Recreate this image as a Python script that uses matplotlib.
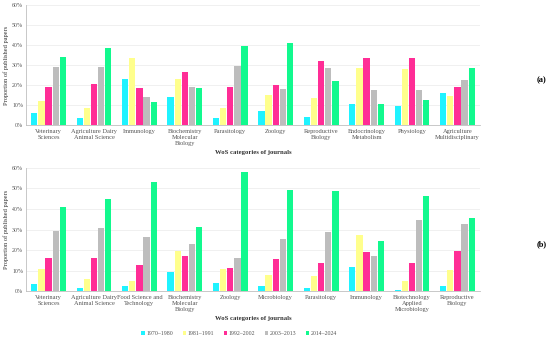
import numpy as np
import matplotlib.pyplot as plt

periods = ["1970–1980", "1981–1991", "1992–2002", "2003–2013", "2014–2024"]
colors = ["#1ff3ff", "#ffff8c", "#ff2d96", "#bdbdbd", "#12f98e"]

cats_a = ["Veterinary\nSciences", "Agriculture Dairy\nAnimal Science", "Immunology",
          "Biochemistry\nMolecular\nBiology", "Parasitology", "Zoology",
          "Reproductive\nBiology", "Endocrinology\nMetabolism", "Physiology",
          "Agriculture\nMultidisciplinary"]
vals_a = [
    [6.0, 3.7, 22.8, 14.0, 3.5, 6.8, 4.2, 10.3, 9.5, 15.8],
    [12.0, 8.5, 33.3, 22.8, 8.7, 14.8, 13.5, 28.5, 27.8, 14.5],
    [19.0, 20.7, 18.5, 26.3, 18.8, 19.8, 32.2, 33.5, 33.7, 19.0],
    [28.8, 29.0, 14.0, 18.8, 29.5, 17.8, 28.5, 17.5, 17.3, 22.7],
    [34.2, 38.7, 11.7, 18.3, 39.7, 41.0, 22.2, 10.7, 12.5, 28.3],
]

cats_b = ["Veterinary\nSciences", "Agriculture Dairy\nAnimal Science", "Food Science and\nTechnology",
          "Biochemistry\nMolecular\nBiology", "Zoology", "Microbiology", "Parasitology",
          "Immunology", "Biotechnology\nApplied\nMicrobiology", "Reproductive\nBiology"]
vals_b = [
    [3.3, 1.6, 2.3, 9.5, 3.9, 2.3, 1.6, 11.6, 0.7, 2.3],
    [10.5, 6.0, 4.9, 19.3, 10.6, 8.0, 7.5, 27.5, 4.9, 10.1],
    [16.3, 16.3, 12.9, 17.0, 11.1, 15.4, 13.6, 19.1, 13.6, 19.6],
    [29.1, 30.9, 26.5, 22.7, 16.3, 25.3, 28.6, 17.3, 34.5, 32.5],
    [40.9, 45.0, 53.1, 31.4, 58.0, 49.2, 48.6, 24.4, 46.3, 35.6],
]

plt.rcParams['font.family'] = ['Liberation Serif', 'DejaVu Serif']
txt = "#555555"

fig = plt.figure(figsize=(5.5, 3.38), dpi=100)
ax_a = fig.add_axes([0.047, 0.630, 0.826, 0.355])
ax_b = fig.add_axes([0.047, 0.139, 0.826, 0.364])


def draw(ax, cats, vals, tag, ypos):
    x = np.arange(len(cats))
    w = 0.14
    step = 0.157
    for i, (lab, c) in enumerate(zip(periods, colors)):
        ax.bar(x + (i - 2) * step, vals[i], w, color=c, label=lab, zorder=3)
    ax.set_xlim(-0.5, len(cats) - 0.5)
    ax.set_ylim(0, 60)
    ax.set_yticks(range(0, 61, 10))
    ax.set_yticklabels([f"{t}%" for t in range(0, 61, 10)])
    ax.yaxis.grid(True, color="#eeeeee", linewidth=0.6, zorder=0)
    ax.set_xticks(x)
    ax.set_xticklabels(cats, fontsize=4.6, color=txt, linespacing=1.25)
    ax.tick_params(axis="y", labelsize=4.2, labelcolor=txt, length=0, pad=2)
    ax.tick_params(axis="x", length=0, pad=3)
    for s in ["top", "right"]:
        ax.spines[s].set_visible(False)
    ax.spines["left"].set_color("#bfbfbf")
    ax.spines["bottom"].set_color("#bfbfbf")
    ax.spines["left"].set_linewidth(0.6)
    ax.spines["bottom"].set_linewidth(0.6)
    ax.set_ylabel("Proportion of published papers", fontsize=4.6, color="#333333", labelpad=2)
    ax.set_xlabel("WoS categories of journals", fontsize=4.8, color="#333333",
                  fontweight="bold", labelpad=3)
    fig.text(0.985, ypos, tag, fontsize=6, fontweight="bold", ha="center", va="center")


draw(ax_a, cats_a, vals_a, "(a)", 1 - 80 / 338)
draw(ax_b, cats_b, vals_b, "(b)", 1 - 244 / 338)

ax_b.legend(loc="center", bbox_to_anchor=(0.47, -0.345), ncol=5, frameon=False,
            fontsize=4.2, handlelength=0.6, handleheight=0.6, columnspacing=1.6,
            handletextpad=0.3, labelcolor=txt)

fig.savefig("out.png", dpi=100)
